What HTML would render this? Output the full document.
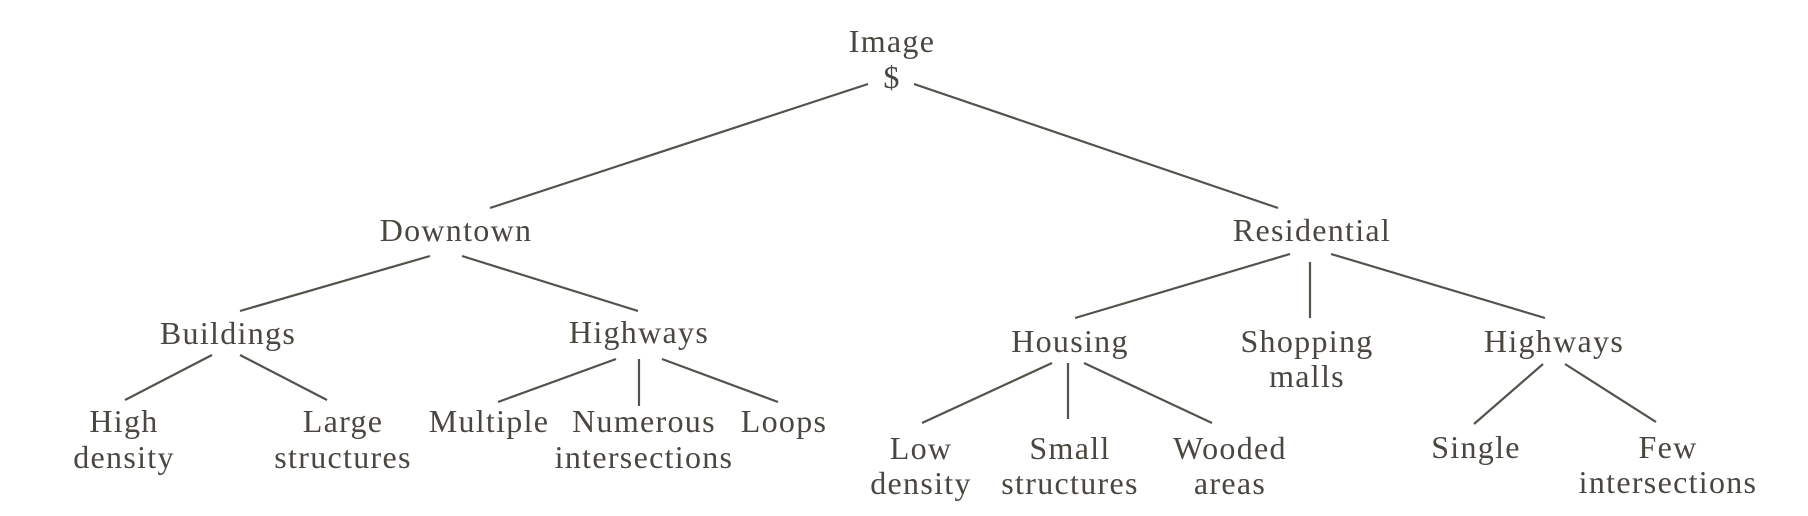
<!DOCTYPE html>
<html><head><meta charset="utf-8"><style>
html,body{margin:0;padding:0;background:#fff;}
svg{display:block;}
text{font-family:"Liberation Serif","DejaVu Serif",serif;font-size:32px;letter-spacing:1.3px;fill:#4a4640;text-anchor:middle;}
line{stroke:#55514b;stroke-width:2.2;}
</style></head><body>
<svg width="1808" height="516" viewBox="0 0 1808 516" xmlns="http://www.w3.org/2000/svg">
<line x1="868" y1="84" x2="490" y2="208"/>
<line x1="914" y1="84" x2="1278" y2="208"/>
<line x1="430" y1="256" x2="240" y2="311"/>
<line x1="462" y1="256" x2="638" y2="311"/>
<line x1="1290" y1="254" x2="1075" y2="318"/>
<line x1="1310" y1="262" x2="1310" y2="318"/>
<line x1="1331" y1="254" x2="1545" y2="318"/>
<line x1="212" y1="355" x2="125" y2="400"/>
<line x1="240" y1="355" x2="327" y2="400"/>
<line x1="616" y1="359" x2="498" y2="402"/>
<line x1="639" y1="359" x2="639" y2="406"/>
<line x1="662" y1="359" x2="778" y2="402"/>
<line x1="1052" y1="363" x2="922" y2="423"/>
<line x1="1068" y1="363" x2="1068" y2="419"/>
<line x1="1084" y1="363" x2="1212" y2="423"/>
<line x1="1543" y1="364" x2="1474" y2="424"/>
<line x1="1565" y1="364" x2="1656" y2="422"/>
<g transform="translate(1,0)">
<text x="891" y="52">Image</text>
<text x="891" y="88">$</text>
<text x="455" y="241">Downtown</text>
<text x="1311" y="241">Residential</text>
<text x="227" y="344">Buildings</text>
<text x="638" y="343">Highways</text>
<text x="1069" y="352">Housing</text>
<text x="1306" y="352">Shopping</text>
<text x="1306" y="387">malls</text>
<text x="1553" y="352">Highways</text>
<text x="123" y="432">High</text>
<text x="123" y="468">density</text>
<text x="342" y="432">Large</text>
<text x="342" y="468">structures</text>
<text x="488" y="432">Multiple</text>
<text x="643" y="432">Numerous</text>
<text x="643" y="468">intersections</text>
<text x="783" y="432">Loops</text>
<text x="920" y="459">Low</text>
<text x="920" y="494">density</text>
<text x="1069" y="459">Small</text>
<text x="1069" y="494">structures</text>
<text x="1229" y="459">Wooded</text>
<text x="1229" y="494">areas</text>
<text x="1475" y="458">Single</text>
<text x="1667" y="458">Few</text>
<text x="1667" y="493">intersections</text>
</g>
</svg>
</body></html>
